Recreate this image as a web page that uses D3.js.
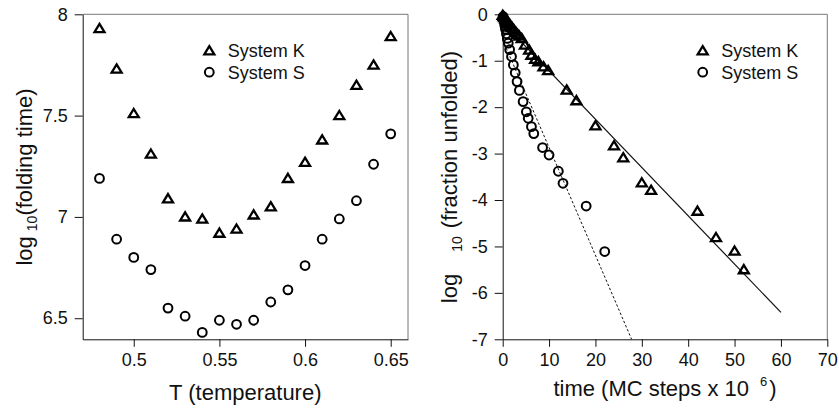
<!DOCTYPE html>
<html>
<head>
<meta charset="utf-8">
<script src="https://cdn.jsdelivr.net/npm/d3@7"></script>
<style>
  body { margin: 0; background: #fff; }
  svg { font-family: "Liberation Sans", Arial, Helvetica, sans-serif; }
</style>
</head>
<body>
<svg id="chart" width="839" height="410"></svg>
<script>
// left panel: folding time vs temperature
const temps = [0.48, 0.49, 0.50, 0.51, 0.52, 0.53, 0.54, 0.55, 0.56, 0.57, 0.58, 0.59, 0.60, 0.61, 0.62, 0.63, 0.64, 0.65];
const foldK = [7.93, 7.73, 7.51, 7.31, 7.09, 7.00, 6.99, 6.92, 6.94, 7.01, 7.05, 7.19, 7.27, 7.38, 7.50, 7.65, 7.75, 7.89];
const foldS = [7.19, 6.89, 6.80, 6.74, 6.55, 6.51, 6.43, 6.49, 6.47, 6.49, 6.58, 6.64, 6.76, 6.89, 6.99, 7.08, 7.26, 7.41];
const tempTicks = [0.5, 0.55, 0.6, 0.65];
const foldTicks = [6.5, 7, 7.5, 8];

// right panel: log fraction unfolded vs time
const timeK = [0, 0.2, 0.4, 0.6, 0.8, 1.0, 1.3, 1.6, 2.0, 2.4, 2.8, 3.2, 3.6, 4.1, 4.8, 5.7, 6.2, 7.0, 7.7, 8.8, 9.8, 13.8, 15.9, 20.0, 24.0, 26.0, 30.0, 32.0, 42.0, 46.0, 50.0, 52.0];
const unfK = [-0.02, -0.05, -0.07, -0.10, -0.12, -0.15, -0.19, -0.23, -0.28, -0.33, -0.38, -0.43, -0.47, -0.52, -0.66, -0.77, -0.88, -0.97, -1.02, -1.13, -1.21, -1.63, -1.86, -2.40, -2.83, -3.09, -3.63, -3.79, -4.24, -4.81, -5.10, -5.50];
const timeS = [0.1, 0.2, 0.3, 0.4, 0.5, 0.6, 0.8, 1.0, 1.2, 1.5, 1.9, 2.3, 2.7, 3.1, 3.6, 4.4, 5.1, 5.5, 6.2, 6.7, 8.6, 10.0, 12.0, 13.0, 18.0, 22.0];
const unfS = [-0.05, -0.10, -0.15, -0.20, -0.26, -0.32, -0.42, -0.52, -0.62, -0.76, -0.91, -1.09, -1.26, -1.45, -1.64, -1.88, -2.10, -2.24, -2.42, -2.57, -2.87, -3.03, -3.38, -3.64, -4.13, -5.11];
const fitKTime = [0, 60];
const fitKVal = [-0.18, -6.42];
const fitSTime = [0, 27.8];
const fitSVal = [-0.55, -7.0];
const timeTicks = [0, 10, 20, 30, 40, 50, 60, 70];
const unfTicks = [0, -1, -2, -3, -4, -5, -6, -7];

const legendNames = ["System K", "System S"];

const svg = d3.select("#chart");
const triPath = "M0,-4.6L5,3.6L-5,3.6Z";

function marker(sel, kind) {
    if (kind === "tri") {
        sel.append("path").attr("d", triPath)
            .attr("fill", "none").attr("stroke", "#000").attr("stroke-width", 2.3)
            .attr("stroke-linejoin", "miter");
    } else {
        sel.append("circle").attr("r", 4.4)
            .attr("fill", "none").attr("stroke", "#000").attr("stroke-width", 2);
    }
}

function frame(g, x, y) {
    const [x0, x1] = x.range();
    const [y0, y1] = y.range();
    g.append("path")
        .attr("d", `M${x0},${y1}H${x1}V${y0}`)
        .attr("fill", "none").attr("stroke", "#777").attr("stroke-width", 1);
}

function styleAxis(g) {
    g.select(".domain").attr("stroke", "#111");
    g.selectAll(".tick line").attr("stroke", "#111");
    g.selectAll(".tick text").attr("font-size", 18).attr("fill", "#111")
        .attr("font-family", "Liberation Sans, Arial, sans-serif");
}

function legend(g, lx, ly) {
    const rows = g.append("g").selectAll("g").data(legendNames).join("g")
        .attr("transform", (d, i) => `translate(${lx},${ly + i * 21.5})`);
    rows.each(function(d, i) {
        marker(d3.select(this), i === 0 ? "tri" : "circ");
    });
    rows.append("text").attr("x", 18.5).attr("y", 6.3)
        .attr("font-size", 18).attr("fill", "#111").text(d => d);
}

// ---- left panel
{
    const x = d3.scaleLinear().domain([0.4702, 0.6601]).range([82.7, 408]);
    const y = d3.scaleLinear().domain([6.396, 8]).range([339.3, 14.3]);
    const g = svg.append("g");

    frame(g, x, y);
    g.append("g").attr("transform", `translate(0,${y.range()[0]})`)
        .call(d3.axisBottom(x).tickValues(tempTicks).tickFormat(d3.format("")).tickSize(7.5).tickSizeOuter(0).tickPadding(6))
        .call(styleAxis);
    g.append("g").attr("transform", `translate(${x.range()[0]},0)`)
        .call(d3.axisLeft(y).tickValues(foldTicks).tickFormat(d3.format("")).tickSize(8).tickSizeOuter(0).tickPadding(7))
        .call(styleAxis);

    g.append("g").selectAll("g").data(temps).join("g")
        .attr("transform", (d, i) => `translate(${x(d)},${y(foldS[i])})`)
        .each(function() { marker(d3.select(this), "circ"); });
    g.append("g").selectAll("g").data(temps).join("g")
        .attr("transform", (d, i) => `translate(${x(d)},${y(foldK[i])})`)
        .each(function() { marker(d3.select(this), "tri"); });

    legend(g, 209.3, 50.7);

    g.append("text").attr("x", 245.3).attr("y", 400).attr("text-anchor", "middle")
        .attr("font-size", 22).attr("fill", "#111").text("T (temperature)");

    const yt = g.append("text").attr("transform", "translate(31.5,177) rotate(-90)")
        .attr("text-anchor", "middle").attr("font-size", 22).attr("fill", "#111");
    yt.append("tspan").text("log");
    yt.append("tspan").attr("dx", 5).attr("dy", 5).attr("font-size", 14).text("10");
    yt.append("tspan").attr("dy", -5).text("(folding time)");
}

// ---- right panel
{
    const x = d3.scaleLinear().domain([0, 70]).range([502.7, 827.3]);
    const y = d3.scaleLinear().domain([-7, 0]).range([339.3, 14.3]);
    const g = svg.append("g");

    frame(g, x, y);
    g.append("g").attr("transform", `translate(0,${y.range()[0]})`)
        .call(d3.axisBottom(x).tickValues(timeTicks).tickSize(7.5).tickSizeOuter(0).tickPadding(6))
        .call(styleAxis);
    g.append("g").attr("transform", `translate(${x.range()[0]},0)`)
        .call(d3.axisLeft(y).tickValues(unfTicks).tickFormat(d3.format("d")).tickSize(8).tickSizeOuter(0).tickPadding(7))
        .call(styleAxis);
    // hyphen-minus like the original labels
    g.selectAll(".tick text").text(function() { return this.textContent.replace("\u2212", "-"); });

    const line = d3.line().x(d => x(d[0])).y(d => y(d[1]));
    g.append("path").datum(d3.zip(fitKTime, fitKVal)).attr("d", line)
        .attr("fill", "none").attr("stroke", "#111").attr("stroke-width", 1.2);
    g.append("path").datum(d3.zip(fitSTime, fitSVal)).attr("d", line)
        .attr("fill", "none").attr("stroke", "#111").attr("stroke-width", 1)
        .attr("stroke-dasharray", "2.5,2");

    g.append("g").selectAll("g").data(timeS).join("g")
        .attr("transform", (d, i) => `translate(${x(d)},${y(unfS[i])})`)
        .each(function() { marker(d3.select(this), "circ"); });
    g.append("g").selectAll("g").data(timeK).join("g")
        .attr("transform", (d, i) => `translate(${x(d)},${y(unfK[i])})`)
        .each(function() { marker(d3.select(this), "tri"); });

    legend(g, 702.7, 50.7);

    const xt = g.append("text").attr("x", 665).attr("y", 396).attr("text-anchor", "middle")
        .attr("font-size", 22).attr("fill", "#111");
    xt.append("tspan").text("time (MC steps x 10");
    xt.append("tspan").attr("dx", 11).attr("dy", -10).attr("font-size", 13).text("6");
    xt.append("tspan").attr("dx", 2).attr("dy", 10).text(")");

    const yt = g.append("text").attr("transform", "translate(456.5,177) rotate(-90)")
        .attr("text-anchor", "middle").attr("font-size", 22).attr("fill", "#111");
    yt.append("tspan").text("log");
    yt.append("tspan").attr("dx", 22).attr("dy", 5.5).attr("font-size", 14).text("10");
    yt.append("tspan").attr("dx", 8).attr("dy", -5.5).text("(fraction unfolded)");
}
</script>
</body>
</html>
